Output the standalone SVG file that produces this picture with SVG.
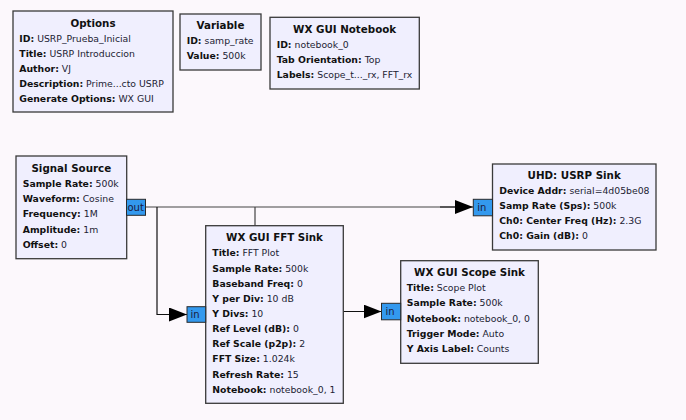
<svg xmlns="http://www.w3.org/2000/svg" width="686" height="420" viewBox="0 0 686 420">
  <defs>
    <style>
      .bg { fill: #fcf8fc; }
      .blk { fill: #f0effe; stroke: #3a3a3a; stroke-width: 1.3; }
      .port { fill: #3399ee; stroke: #2a2a2a; stroke-width: 1; }
      .ptxt { font-family: "DejaVu Sans", sans-serif; font-size: 10px; fill: #1a1a40; }
      .ttl { font-family: "DejaVu Sans", sans-serif; font-size: 10.3px; font-weight: bold; fill: #111; text-anchor: middle; }
      .prm { font-family: "DejaVu Sans", sans-serif; font-size: 9.3px; fill: #222233; }
      .prm tspan.k { font-weight: bold; fill: #111; }
      .wire { fill: none; stroke: #444; stroke-width: 1.2; }
      .wire2 { fill: none; stroke: #111; stroke-width: 1.2; }
    </style>
    <marker id="arrow" markerWidth="18" markerHeight="14" refX="18" refY="7" orient="auto" markerUnits="userSpaceOnUse">
      <path d="M0,0 L18,7 L0,14 Z" fill="#000"/>
    </marker>
  </defs>

  <rect class="bg" x="0" y="0" width="686" height="420"/>

  <!-- connectors (drawn beneath the blocks) -->
  <g id="connectors">
    <!-- Signal Source -> UHD USRP Sink -->
    <path class="wire" d="M146,207 H456"/>
    <path class="wire2" d="M440,207 H473" marker-end="url(#arrow)"/>
    <!-- Signal Source -> FFT Sink -->
    <path class="wire2" d="M157,207 V314.5 H187" marker-end="url(#arrow)"/>
    <!-- Signal Source -> Scope Sink (runs behind the FFT block) -->
    <path class="wire" d="M255,207 V311.5 H300"/>
    <path class="wire2" d="M300,311.5 H381.5" marker-end="url(#arrow)"/>
  </g>

  <!-- Options -->
  <g id="options">
    <rect class="blk" x="13" y="11" width="160" height="101"/>
    <text class="ttl" x="93" y="26.7">Options</text>
    <text class="prm" x="19.3" y="41.7"><tspan class="k">ID:</tspan> USRP_Prueba_Inicial</text>
    <text class="prm" x="19.3" y="56.7"><tspan class="k">Title:</tspan> USRP Introduccion</text>
    <text class="prm" x="19.3" y="72"><tspan class="k">Author:</tspan> VJ</text>
    <text class="prm" x="19.3" y="86.8"><tspan class="k">Description:</tspan> Prime...cto USRP</text>
    <text class="prm" x="19.3" y="101.7"><tspan class="k">Generate Options:</tspan> WX GUI</text>
  </g>

  <!-- Variable -->
  <g id="variable">
    <rect class="blk" x="180" y="14" width="81" height="56"/>
    <text class="ttl" x="220.5" y="29">Variable</text>
    <text class="prm" x="186.7" y="44.3"><tspan class="k">ID:</tspan> samp_rate</text>
    <text class="prm" x="186.7" y="58.8"><tspan class="k">Value:</tspan> 500k</text>
  </g>

  <!-- WX GUI Notebook -->
  <g id="notebook">
    <rect class="blk" x="270" y="17.3" width="149.3" height="71.7"/>
    <text class="ttl" x="344.6" y="32.7">WX GUI Notebook</text>
    <text class="prm" x="276.7" y="47.7"><tspan class="k">ID:</tspan> notebook_0</text>
    <text class="prm" x="276.7" y="63.3"><tspan class="k">Tab Orientation:</tspan> Top</text>
    <text class="prm" x="276.7" y="78.3"><tspan class="k">Labels:</tspan> Scope_t..._rx, FFT_rx</text>
  </g>

  <!-- Signal Source -->
  <g id="signal_source">
    <rect class="blk" x="16" y="156" width="110.7" height="102.7"/>
    <text class="ttl" x="71.3" y="171.7">Signal Source</text>
    <text class="prm" x="22.7" y="186.7"><tspan class="k">Sample Rate:</tspan> 500k</text>
    <text class="prm" x="22.7" y="202"><tspan class="k">Waveform:</tspan> Cosine</text>
    <text class="prm" x="22.7" y="217.2"><tspan class="k">Frequency:</tspan> 1M</text>
    <text class="prm" x="22.7" y="232.7"><tspan class="k">Amplitude:</tspan> 1m</text>
    <text class="prm" x="22.7" y="247.7"><tspan class="k">Offset:</tspan> 0</text>
    <rect class="port" x="126.5" y="199.3" width="19" height="16"/>
    <text class="ptxt" x="127.5" y="211">out</text>
  </g>

  <!-- UHD: USRP Sink -->
  <g id="usrp_sink">
    <rect class="blk" x="492.5" y="164" width="163.5" height="86"/>
    <text class="ttl" x="574.2" y="179">UHD: USRP Sink</text>
    <text class="prm" x="499.3" y="194.3"><tspan class="k">Device Addr:</tspan> serial=4d05be08</text>
    <text class="prm" x="499.3" y="209.3"><tspan class="k">Samp Rate (Sps):</tspan> 500k</text>
    <text class="prm" x="499.3" y="224.3"><tspan class="k">Ch0: Center Freq (Hz):</tspan> 2.3G</text>
    <text class="prm" x="499.3" y="239.3"><tspan class="k">Ch0: Gain (dB):</tspan> 0</text>
    <rect class="port" x="473.3" y="199.3" width="19.2" height="16.5"/>
    <text class="ptxt" x="477.3" y="211">in</text>
  </g>

  <!-- WX GUI FFT Sink -->
  <g id="fft_sink">
    <rect class="blk" x="205.7" y="225.7" width="137.6" height="177.6"/>
    <text class="ttl" x="274.5" y="240.7">WX GUI FFT Sink</text>
    <text class="prm" x="212.3" y="256"><tspan class="k">Title:</tspan> FFT Plot</text>
    <text class="prm" x="212.3" y="271.5"><tspan class="k">Sample Rate:</tspan> 500k</text>
    <text class="prm" x="212.3" y="286.5"><tspan class="k">Baseband Freq:</tspan> 0</text>
    <text class="prm" x="212.3" y="301.7"><tspan class="k">Y per Div:</tspan> 10 dB</text>
    <text class="prm" x="212.3" y="316.7"><tspan class="k">Y Divs:</tspan> 10</text>
    <text class="prm" x="212.3" y="332.2"><tspan class="k">Ref Level (dB):</tspan> 0</text>
    <text class="prm" x="212.3" y="347.3"><tspan class="k">Ref Scale (p2p):</tspan> 2</text>
    <text class="prm" x="212.3" y="362.3"><tspan class="k">FFT Size:</tspan> 1.024k</text>
    <text class="prm" x="212.3" y="377.6"><tspan class="k">Refresh Rate:</tspan> 15</text>
    <text class="prm" x="212.3" y="392.7"><tspan class="k">Notebook:</tspan> notebook_0, 1</text>
    <rect class="port" x="187" y="306.7" width="18.7" height="15.6"/>
    <text class="ptxt" x="190.5" y="318.3">in</text>
  </g>

  <!-- WX GUI Scope Sink -->
  <g id="scope_sink">
    <rect class="blk" x="400.7" y="260.7" width="137.6" height="102.6"/>
    <text class="ttl" x="469.5" y="276">WX GUI Scope Sink</text>
    <text class="prm" x="406.7" y="291"><tspan class="k">Title:</tspan> Scope Plot</text>
    <text class="prm" x="406.7" y="306.2"><tspan class="k">Sample Rate:</tspan> 500k</text>
    <text class="prm" x="406.7" y="321.5"><tspan class="k">Notebook:</tspan> notebook_0, 0</text>
    <text class="prm" x="406.7" y="336.7"><tspan class="k">Trigger Mode:</tspan> Auto</text>
    <text class="prm" x="406.7" y="351.7"><tspan class="k">Y Axis Label:</tspan> Counts</text>
    <rect class="port" x="381.5" y="303.3" width="19.2" height="16.5"/>
    <text class="ptxt" x="385.5" y="315.3">in</text>
  </g>
</svg>
